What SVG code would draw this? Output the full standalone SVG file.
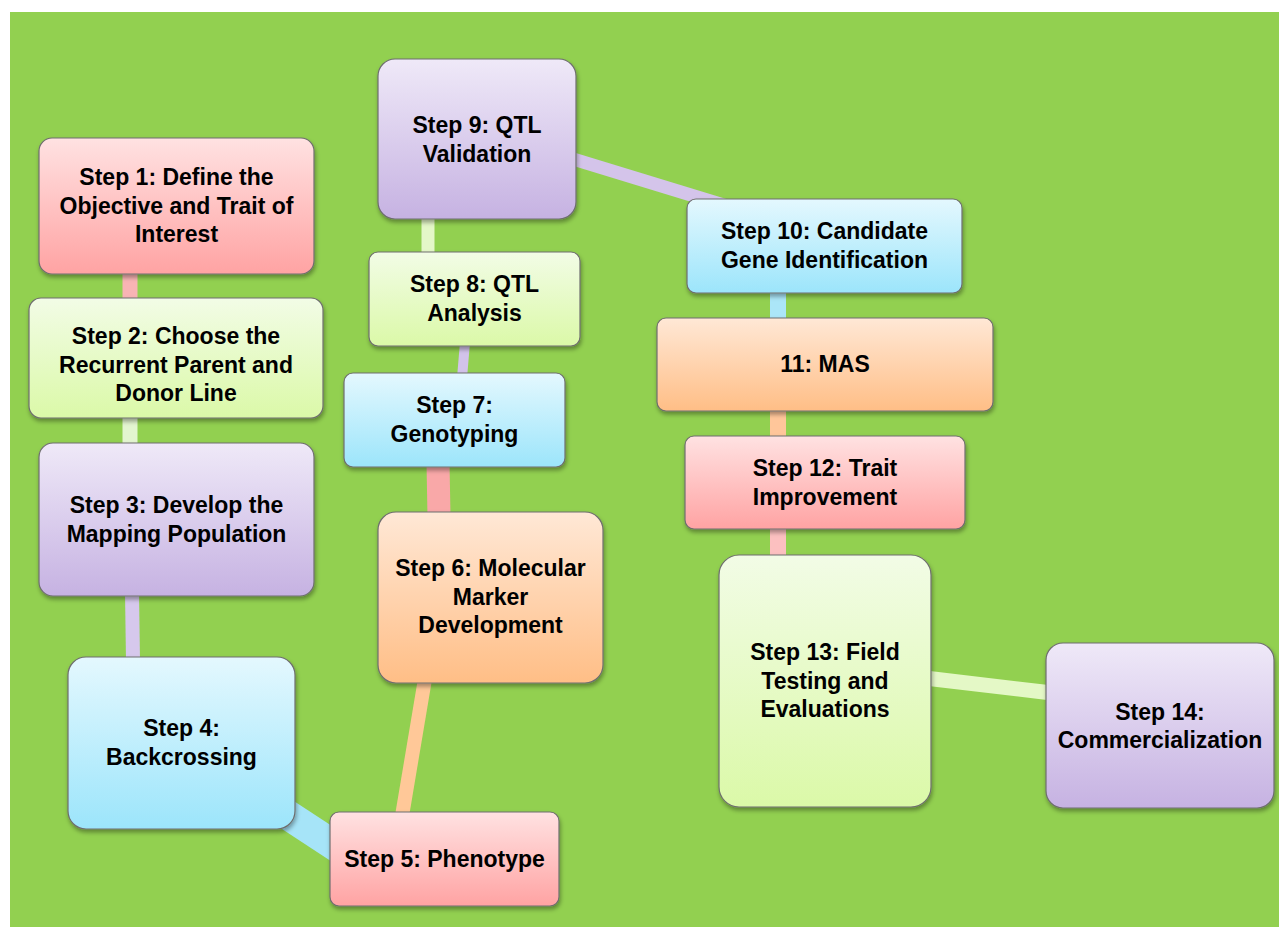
<svg xmlns="http://www.w3.org/2000/svg" width="1279" height="927" viewBox="0 0 1279 927">
<defs>
<linearGradient id="gPink" x1="0" y1="0" x2="0" y2="1"><stop offset="0" stop-color="#FFE2E2"/><stop offset="1" stop-color="#FFA3A3"/></linearGradient>
<linearGradient id="gGreen" x1="0" y1="0" x2="0" y2="1"><stop offset="0" stop-color="#F2FCE6"/><stop offset="1" stop-color="#DBF9A8"/></linearGradient>
<linearGradient id="gLav" x1="0" y1="0" x2="0" y2="1"><stop offset="0" stop-color="#EFE9F8"/><stop offset="1" stop-color="#C6B2E2"/></linearGradient>
<linearGradient id="gBlue" x1="0" y1="0" x2="0" y2="1"><stop offset="0" stop-color="#E4F8FE"/><stop offset="1" stop-color="#9CE5FB"/></linearGradient>
<linearGradient id="gPeach" x1="0" y1="0" x2="0" y2="1"><stop offset="0" stop-color="#FFE8D6"/><stop offset="1" stop-color="#FFBE86"/></linearGradient>
<filter id="sh" x="-10%" y="-10%" width="120%" height="130%"><feDropShadow dx="1" dy="3" stdDeviation="2" flood-color="#000" flood-opacity="0.35"/></filter>
</defs>
<style>
.box{stroke:#6E6E6E;stroke-width:1.2;filter:url(#sh)}
.lbl{font-family:"Liberation Sans",Arial,sans-serif;font-weight:bold;font-size:23px;fill:#000;text-anchor:middle}
.c{fill:none;stroke-linecap:butt}
</style>
<rect x="10" y="12" width="1269" height="915" fill="#92D050"/>
<g id="connectors">
<line class="c" x1="130" y1="270" x2="130" y2="302" stroke="#F8B4B4" stroke-width="15"/>
<line class="c" x1="130" y1="414" x2="130" y2="447" stroke="#E3F5D0" stroke-width="15"/>
<line class="c" x1="132" y1="592" x2="133" y2="661" stroke="#D6C8EC" stroke-width="14"/>
<line class="c" x1="265" y1="800" x2="355" y2="859" stroke="#A6E4F8" stroke-width="30"/>
<line class="c" x1="402" y1="816" x2="425" y2="679" stroke="#FFC898" stroke-width="14"/>
<line class="c" x1="438" y1="463" x2="439" y2="516" stroke="#F9A8A8" stroke-width="23"/>
<line class="c" x1="465" y1="342" x2="462" y2="378" stroke="#D2C3EA" stroke-width="10"/>
<line class="c" x1="428" y1="216" x2="428" y2="254" stroke="#E4F7C8" stroke-width="13"/>
<line class="c" x1="560" y1="155" x2="740" y2="210" stroke="#D4C4EA" stroke-width="13"/>
<line class="c" x1="778" y1="289" x2="778" y2="322" stroke="#ABE6F8" stroke-width="16"/>
<line class="c" x1="778" y1="406" x2="778" y2="440" stroke="#FFC69A" stroke-width="16"/>
<line class="c" x1="778" y1="525" x2="778" y2="559" stroke="#FCC0C0" stroke-width="16"/>
<line class="c" x1="925" y1="678" x2="1052" y2="693" stroke="#E4F8C6" stroke-width="15"/>
</g>
<g id="step1"><rect class="box" x="39" y="138" width="275" height="136" rx="13" fill="url(#gPink)"/>
<text class="lbl" x="176.5" y="185">Step 1: Define the</text><text class="lbl" x="176.5" y="213.5">Objective and Trait of</text><text class="lbl" x="176.5" y="242">Interest</text></g>
<g id="step2"><rect class="box" x="29" y="298" width="294" height="120" rx="12" fill="url(#gGreen)"/>
<text class="lbl" x="176" y="344">Step 2: Choose the</text><text class="lbl" x="176" y="372.5">Recurrent Parent and</text><text class="lbl" x="176" y="401">Donor Line</text></g>
<g id="step3"><rect class="box" x="39" y="443" width="275" height="153" rx="14" fill="url(#gLav)"/>
<text class="lbl" x="176.5" y="513">Step 3: Develop the</text><text class="lbl" x="176.5" y="541.5">Mapping Population</text></g>
<g id="step4"><rect class="box" x="68" y="657" width="227" height="172" rx="18" fill="url(#gBlue)"/>
<text class="lbl" x="181.5" y="736">Step 4:</text><text class="lbl" x="181.5" y="764.5">Backcrossing</text></g>
<g id="step5"><rect class="box" x="330" y="812" width="229" height="94" rx="9" fill="url(#gPink)"/>
<text class="lbl" x="444.5" y="867">Step 5: Phenotype</text></g>
<g id="step6"><rect class="box" x="378" y="512" width="225" height="171" rx="18" fill="url(#gPeach)"/>
<text class="lbl" x="490.5" y="576">Step 6: Molecular</text><text class="lbl" x="490.5" y="604.5">Marker</text><text class="lbl" x="490.5" y="633">Development</text></g>
<g id="step7"><rect class="box" x="344" y="373" width="221" height="94" rx="9" fill="url(#gBlue)"/>
<text class="lbl" x="454.5" y="413">Step 7:</text><text class="lbl" x="454.5" y="441.5">Genotyping</text></g>
<g id="step8"><rect class="box" x="369" y="252" width="211" height="94" rx="9" fill="url(#gGreen)"/>
<text class="lbl" x="474.5" y="292">Step 8: QTL</text><text class="lbl" x="474.5" y="320.5">Analysis</text></g>
<g id="step9"><rect class="box" x="378" y="59" width="198" height="160" rx="17" fill="url(#gLav)"/>
<text class="lbl" x="477" y="133">Step 9: QTL</text><text class="lbl" x="477" y="161.5">Validation</text></g>
<g id="step10"><rect class="box" x="687" y="199" width="275" height="94" rx="9" fill="url(#gBlue)"/>
<text class="lbl" x="824.5" y="239">Step 10: Candidate</text><text class="lbl" x="824.5" y="267.5">Gene Identification</text></g>
<g id="step11"><rect class="box" x="657" y="318" width="336" height="93" rx="9" fill="url(#gPeach)"/>
<text class="lbl" x="825" y="372">11: MAS</text></g>
<g id="step12"><rect class="box" x="685" y="436" width="280" height="93" rx="9" fill="url(#gPink)"/>
<text class="lbl" x="825" y="476">Step 12: Trait</text><text class="lbl" x="825" y="504.5">Improvement</text></g>
<g id="step13"><rect class="box" x="719" y="555" width="212" height="252" rx="20" fill="url(#gGreen)"/>
<text class="lbl" x="825" y="660">Step 13: Field</text><text class="lbl" x="825" y="688.5">Testing and</text><text class="lbl" x="825" y="717">Evaluations</text></g>
<g id="step14"><rect class="box" x="1046" y="643" width="228" height="165" rx="17" fill="url(#gLav)"/>
<text class="lbl" x="1160" y="719.5">Step 14:</text><text class="lbl" x="1160" y="748">Commercialization</text></g>
</svg>
